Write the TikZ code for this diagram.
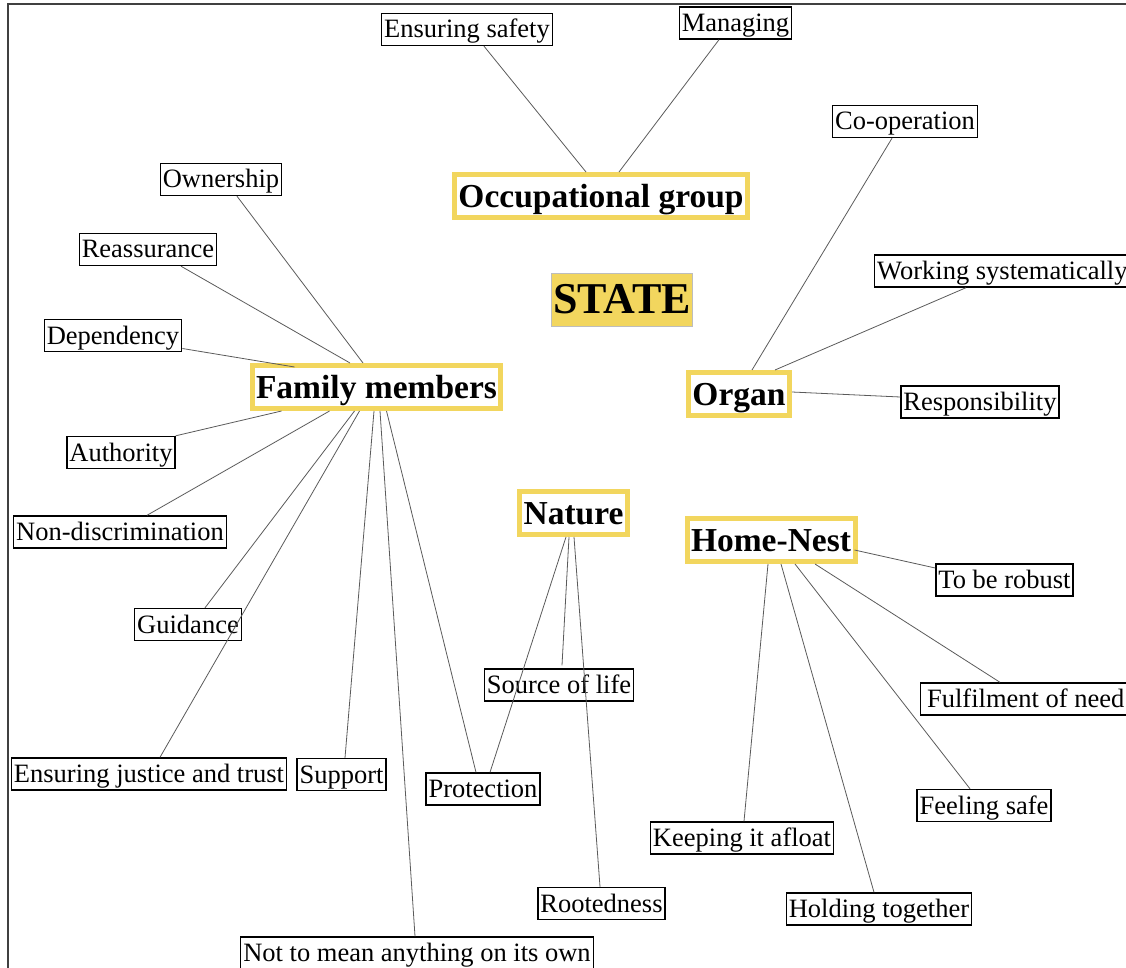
\documentclass[tikz,border=0pt]{standalone}
\usepackage{fontspec}
\setmainfont{Liberation Serif}
\usetikzlibrary{calc}
\definecolor{ylw}{HTML}{F2D65E}
\definecolor{stategray}{HTML}{BDBDBD}
\definecolor{linegray}{HTML}{5A5A5A}
\tikzset{
  leaf/.style={draw=black, line width=1.4pt, inner xsep=2.5pt, inner ysep=0pt, minimum height=32pt, text height=22pt, text depth=5pt, font=\fontsize{26.5}{30}\selectfont},
  hub/.style={draw=ylw, line width=5pt, inner xsep=4pt, inner ysep=0pt, minimum height=43pt, text height=29pt, text depth=6pt, font=\fontsize{33.5}{38}\selectfont\bfseries},
  core/.style={draw=stategray, fill=ylw, line width=1pt, inner xsep=2pt, inner ysep=0pt, minimum height=53pt, font=\fontsize{44}{48}\selectfont\bfseries},
  link/.style={draw=linegray, line width=0.8pt},
  frame/.style={draw=black!75, line width=1.5pt}
}
\begin{document}
\begin{tikzpicture}[x=1pt,y=-1pt]
\useasboundingbox (0,0) rectangle (1126,968);
\draw[frame] (8,4) rectangle (1140,990);
% hubs
\node[core] (state) at (622,299.5) {STATE};
\node[hub] (occ) at (601,196) {Occupational group};
\node[hub] (fam) at (376.5,387) {Family members};
\node[hub] (org) at (739,394) {Organ};
\node[hub] (nat) at (573.5,513) {Nature};
\node[hub] (hn) at (771,540) {Home-Nest};
% leaves
\node[leaf] (es) at (467,29.5) {Ensuring safety};
\node[leaf] (man) at (735.5,23) {Managing};
\node[leaf] (coop) at (905,121.5) {Co-operation};
\node[leaf, anchor=west] (ws) at (874,271) {Working systematically};
\node[leaf] (resp) at (980,402) {Responsibility};
\node[leaf] (own) at (221,179.5) {Ownership};
\node[leaf] (reas) at (148,249.5) {Reassurance};
\node[leaf] (dep) at (113,335.5) {Dependency};
\node[leaf] (auth) at (121,452.5) {Authority};
\node[leaf] (nd) at (120,532) {Non-discrimination};
\node[leaf] (guid) at (188,624.5) {Guidance};
\node[leaf] (ej) at (149,774) {Ensuring justice and trust};
\node[leaf] (sup) at (341.5,774.5) {Support};
\node[leaf] (prot) at (483,789) {Protection};
\node[leaf] (sol) at (559,685) {Source of life};
\node[leaf] (root) at (601.5,903.5) {Rootedness};
\node[leaf] (ntm) at (417,953) {Not to mean anything on its own};
\node[leaf] (rob) at (1004.5,580) {To be robust};
\node[leaf, anchor=west, minimum width=210pt] (ful) at (920,699) {Fulfilment of need};
\node[leaf] (fs) at (984,805.5) {Feeling safe};
\node[leaf] (ka) at (742,838) {Keeping it afloat};
\node[leaf] (ht) at (879,909) {Holding together};
% links: occupational group
\draw[link] ($(es.south)+(17,0)$) -- ($(occ.north)+(-15,0)$);
\draw[link] ($(man.south)+(-16.5,0)$) -- ($(occ.north)+(18,0)$);
% links: organ
\draw[link] ($(coop.south)+(-13,0)$) -- ($(org.north)+(13,0)$);
\draw[link] ($(ws.south west)+(92,0)$) -- ($(org.north)+(36,0)$);
\draw[link] ($(resp.west)+(0,-5)$) -- ($(org.east)+(0,-2)$);
% links: family members
\draw[link] ($(own.south)+(16,0)$) -- ($(fam.north)+(-13.5,0)$);
\draw[link] ($(reas.south)+(33,0)$) -- ($(fam.north)+(-26.5,0)$);
\draw[link] ($(dep.east)+(0,13)$) -- ($(fam.north west)+(45,4)$);
\draw[link] (auth.north east) -- ($(fam.south west)+(32,0)$);
\draw[link] ($(nd.north)+(27,0)$) -- ($(fam.south)+(-47,0)$);
\draw[link] ($(guid.north)+(17,0)$) -- ($(fam.south)+(-22,0)$);
\draw[link] ($(ej.north)+(11,0)$) -- ($(fam.south)+(-17,0)$);
\draw[link] ($(sup.north)+(3.5,0)$) -- ($(fam.south)+(-2.5,0)$);
\draw[link] ($(ntm.north)+(-2,0)$) -- ($(fam.south)+(3.5,0)$);
\draw[link] ($(prot.north)+(-7,0)$) -- ($(fam.south)+(10,0)$);
% links: nature
\draw[link] ($(sol.north)+(3,-3)$) -- ($(nat.south)+(-4.5,0)$);
\draw[link] ($(prot.north)+(7,0)$) -- ($(nat.south)+(-7.5,0)$);
\draw[link] ($(root.north)+(-1.5,0)$) -- ($(nat.south)+(0.5,0)$);
% links: home-nest
\draw[link] ($(rob.west)+(0,-12)$) -- ($(hn.east)+(-3,10)$);
\draw[link] ($(ful.north west)+(80,0)$) -- ($(hn.south)+(44,0)$);
\draw[link] ($(fs.north)+(-14,0)$) -- ($(hn.south)+(24,0)$);
\draw[link] ($(ka.north)+(2,0)$) -- ($(hn.south)+(-3,0)$);
\draw[link] ($(ht.north)+(-5,0)$) -- ($(hn.south)+(10,0)$);
\end{tikzpicture}
\end{document}
